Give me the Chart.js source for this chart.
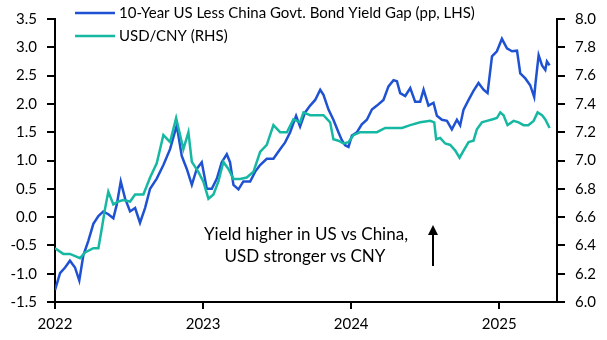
<!DOCTYPE html>
<html>
<head>
<meta charset="utf-8">
<script src="https://cdn.jsdelivr.net/npm/chart.js@4.4.1/dist/chart.umd.min.js"></script>
<style>
  body { margin: 0; background: #fff; }
  #wrap { width: 607px; height: 340px; }
</style>
</head>
<body>
<div id="wrap"><canvas id="chart" width="607" height="340"></canvas></div>
<script>
// Years on the x axis (0 = start of 2022)
const yearLabels = ["2022", "2023", "2024", "2025"];
const yearTicks = [0, 1, 2, 3];

// Left axis ticks (pp) and right axis ticks (USD/CNY)
const leftTicks = [-1.5, -1.0, -0.5, 0.0, 0.5, 1.0, 1.5, 2.0, 2.5, 3.0, 3.5];
const rightTicks = [6.0, 6.2, 6.4, 6.6, 6.8, 7.0, 7.2, 7.4, 7.6, 7.8, 8.0];

// 10-Year US less China govt. bond yield gap, pp (LHS)
const gapTimes = [
  0.000, 0.034, 0.068, 0.101, 0.135, 0.164, 0.191, 0.225, 0.259, 0.293,
  0.326, 0.360, 0.394, 0.417, 0.444, 0.473, 0.507, 0.541, 0.574, 0.608,
  0.642, 0.687, 0.732, 0.777, 0.822, 0.856, 0.890, 0.924, 0.957, 0.991,
  1.025, 1.059, 1.093, 1.126, 1.160, 1.182, 1.205, 1.239, 1.272, 1.318,
  1.351, 1.385, 1.430, 1.475, 1.520, 1.554, 1.588, 1.628, 1.655, 1.689,
  1.723, 1.757, 1.791, 1.813, 1.847, 1.880, 1.914, 1.937, 1.959, 1.982,
  2.005, 2.039, 2.072, 2.106, 2.140, 2.174, 2.218, 2.252, 2.286, 2.309,
  2.331, 2.365, 2.399, 2.432, 2.466, 2.489, 2.522, 2.556, 2.579, 2.613,
  2.647, 2.680, 2.714, 2.736, 2.759, 2.793, 2.826, 2.860, 2.894, 2.921,
  2.951, 2.984, 3.018, 3.052, 3.086, 3.120, 3.142, 3.176, 3.209, 3.236,
  3.245, 3.266, 3.289, 3.311, 3.322, 3.340
];
const gapValues = [
  -1.29, -0.99, -0.89, -0.77, -0.89, -1.12, -0.68, -0.42, -0.12, 0.02,
  0.10, 0.05, -0.02, 0.22, 0.63, 0.33, 0.10, 0.16, -0.10, 0.16,
  0.50, 0.68, 0.92, 1.20, 1.62, 1.08, 0.85, 0.57, 0.85, 0.97,
  0.50, 0.50, 0.68, 0.97, 1.11, 0.97, 0.57, 0.49, 0.63, 0.63,
  0.80, 0.92, 1.03, 1.03, 1.20, 1.32, 1.50, 1.79, 1.60, 1.85,
  1.97, 2.07, 2.25, 2.16, 1.90, 1.72, 1.50, 1.36, 1.27, 1.24,
  1.44, 1.50, 1.64, 1.72, 1.90, 1.97, 2.07, 2.31, 2.42, 2.40,
  2.19, 2.14, 2.28, 2.04, 2.04, 2.25, 1.97, 2.02, 1.79, 1.72,
  1.70, 1.55, 1.72, 1.62, 1.90, 2.07, 2.23, 2.37, 2.25, 2.19,
  2.84, 2.93, 3.15, 2.98, 2.93, 2.94, 2.54, 2.45, 2.33, 2.12,
  2.37, 2.86, 2.68, 2.60, 2.75, 2.68
];

// USD/CNY (RHS)
const fxTimes = [
  0.000, 0.056, 0.101, 0.169, 0.203, 0.259, 0.293, 0.316, 0.338, 0.360,
  0.394, 0.428, 0.461, 0.507, 0.541, 0.597, 0.642, 0.687, 0.732, 0.777,
  0.818, 0.867, 0.901, 0.924, 0.968, 1.002, 1.036, 1.070, 1.103, 1.137,
  1.171, 1.205, 1.250, 1.295, 1.340, 1.385, 1.430, 1.475, 1.520, 1.566,
  1.610, 1.655, 1.678, 1.723, 1.768, 1.813, 1.858, 1.880, 1.914, 1.948,
  1.982, 2.016, 2.061, 2.106, 2.174, 2.230, 2.286, 2.343, 2.399, 2.466,
  2.534, 2.561, 2.574, 2.601, 2.635, 2.669, 2.703, 2.732, 2.759, 2.793,
  2.826, 2.849, 2.883, 2.916, 2.951, 2.984, 3.007, 3.029, 3.056, 3.097,
  3.131, 3.164, 3.196, 3.232, 3.259, 3.289, 3.311, 3.340
];
const fxValues = [
  6.38, 6.34, 6.34, 6.31, 6.35, 6.38, 6.38, 6.52, 6.66, 6.78,
  6.69, 6.71, 6.72, 6.71, 6.76, 6.76, 6.88, 6.98, 7.18, 7.13,
  7.30, 7.08, 7.20, 6.99, 6.92, 6.85, 6.73, 6.76, 6.85, 6.99,
  6.94, 6.87, 6.87, 6.88, 6.92, 7.06, 7.11, 7.25, 7.20, 7.20,
  7.29, 7.27, 7.34, 7.32, 7.32, 7.32, 7.27, 7.15, 7.14, 7.12,
  7.13, 7.18, 7.20, 7.20, 7.20, 7.23, 7.23, 7.23, 7.25, 7.27,
  7.28, 7.27, 7.15, 7.16, 7.12, 7.11, 7.07, 7.02, 7.07, 7.13,
  7.14, 7.22, 7.27, 7.28, 7.29, 7.30, 7.34, 7.32, 7.25, 7.28,
  7.27, 7.25, 7.25, 7.28, 7.34, 7.32, 7.29, 7.23
];

const gapLabel = "10-Year US Less China Govt. Bond Yield Gap (pp, LHS)";
const fxLabel = "USD/CNY (RHS)";
const noteLines = ["Yield higher in US vs China,", "USD stronger vs CNY"];

const BLUE = "#1f52d3";
const TEAL = "#17b8a2";
const FONT = "Lato, 'Open Sans', sans-serif";

function toPoints(times, values) {
  return times.map((t, i) => ({ x: t, y: values[i] }));
}

// Legend inside the plot and the arrow note
const overlayPlugin = {
  id: "overlay",
  afterDraw(chart) {
    const ctx = chart.ctx;
    ctx.save();
    // legend
    const rows = [
      { color: BLUE, text: gapLabel, y: 13 },
      { color: TEAL, text: fxLabel, y: 36 }
    ];
    rows.forEach(r => {
      ctx.strokeStyle = r.color;
      ctx.lineWidth = 2.5;
      ctx.beginPath();
      ctx.moveTo(75, r.y);
      ctx.lineTo(115, r.y);
      ctx.stroke();
      ctx.fillStyle = "#000";
      ctx.font = "15px " + FONT;
      ctx.textAlign = "left";
      ctx.textBaseline = "middle";
      ctx.fillText(r.text, 119, r.y);
    });

    // note text
    ctx.font = "17px " + FONT;
    ctx.textAlign = "center";
    ctx.textBaseline = "alphabetic";
    ctx.fillText(noteLines[0], 306, 240);
    ctx.fillText(noteLines[1], 305, 262);

    // arrow
    ctx.strokeStyle = "#000";
    ctx.lineWidth = 2;
    ctx.beginPath();
    ctx.moveTo(433, 266);
    ctx.lineTo(433, 232);
    ctx.stroke();
    ctx.beginPath();
    ctx.moveTo(433, 225);
    ctx.lineTo(428, 235);
    ctx.lineTo(438, 235);
    ctx.closePath();
    ctx.fillStyle = "#000";
    ctx.fill();
    ctx.restore();
  }
};

const axisFont = { family: FONT, size: 15 };

new Chart(document.getElementById("chart"), {
  type: "line",
  data: {
    datasets: [
      {
        label: fxLabel,
        data: toPoints(fxTimes, fxValues),
        borderColor: TEAL,
        borderWidth: 2.5,
        pointRadius: 0,
        tension: 0,
        yAxisID: "yR"
      },
      {
        label: gapLabel,
        data: toPoints(gapTimes, gapValues),
        borderColor: BLUE,
        borderWidth: 2.5,
        pointRadius: 0,
        tension: 0,
        yAxisID: "yL"
      }
    ]
  },
  options: {
    responsive: false,
    animation: false,
    layout: { padding: { top: 15, right: 0, left: 0, bottom: 0 } },
    plugins: {
      legend: { display: false },
      tooltip: { enabled: false }
    },
    scales: {
      x: {
        type: "linear",
        min: 0,
        max: 3.39,
        afterBuildTicks: s => { s.ticks = yearTicks.map(v => ({ value: v })); },
        afterFit: s => { s.height = 38; },
        border: { color: "#000", width: 2 },
        grid: { drawOnChartArea: false, color: "#000", lineWidth: 2, tickLength: 7 },
        ticks: {
          color: "#000",
          font: axisFont,
          padding: 6,
          maxRotation: 0,
          callback: v => yearLabels[yearTicks.indexOf(v)]
        }
      },
      yL: {
        position: "left",
        min: -1.5,
        max: 3.5,
        afterBuildTicks: s => { s.ticks = leftTicks.map(v => ({ value: v })); },
        afterFit: s => { s.width = 55; },
        border: { color: "#000", width: 2 },
        grid: { drawOnChartArea: false, color: "#000", lineWidth: 2, tickLength: 8 },
        ticks: { color: "#000", font: axisFont, padding: 10, callback: v => v.toFixed(1) }
      },
      yR: {
        position: "right",
        min: 6.0,
        max: 8.0,
        afterBuildTicks: s => { s.ticks = rightTicks.map(v => ({ value: v })); },
        afterFit: s => { s.width = 50; },
        border: { color: "#000", width: 2 },
        grid: { drawOnChartArea: false, color: "#000", lineWidth: 2, tickLength: 8 },
        ticks: { color: "#000", font: axisFont, padding: 10, callback: v => v.toFixed(1) }
      }
    }
  },
  plugins: [overlayPlugin]
});
</script>
</body>
</html>
